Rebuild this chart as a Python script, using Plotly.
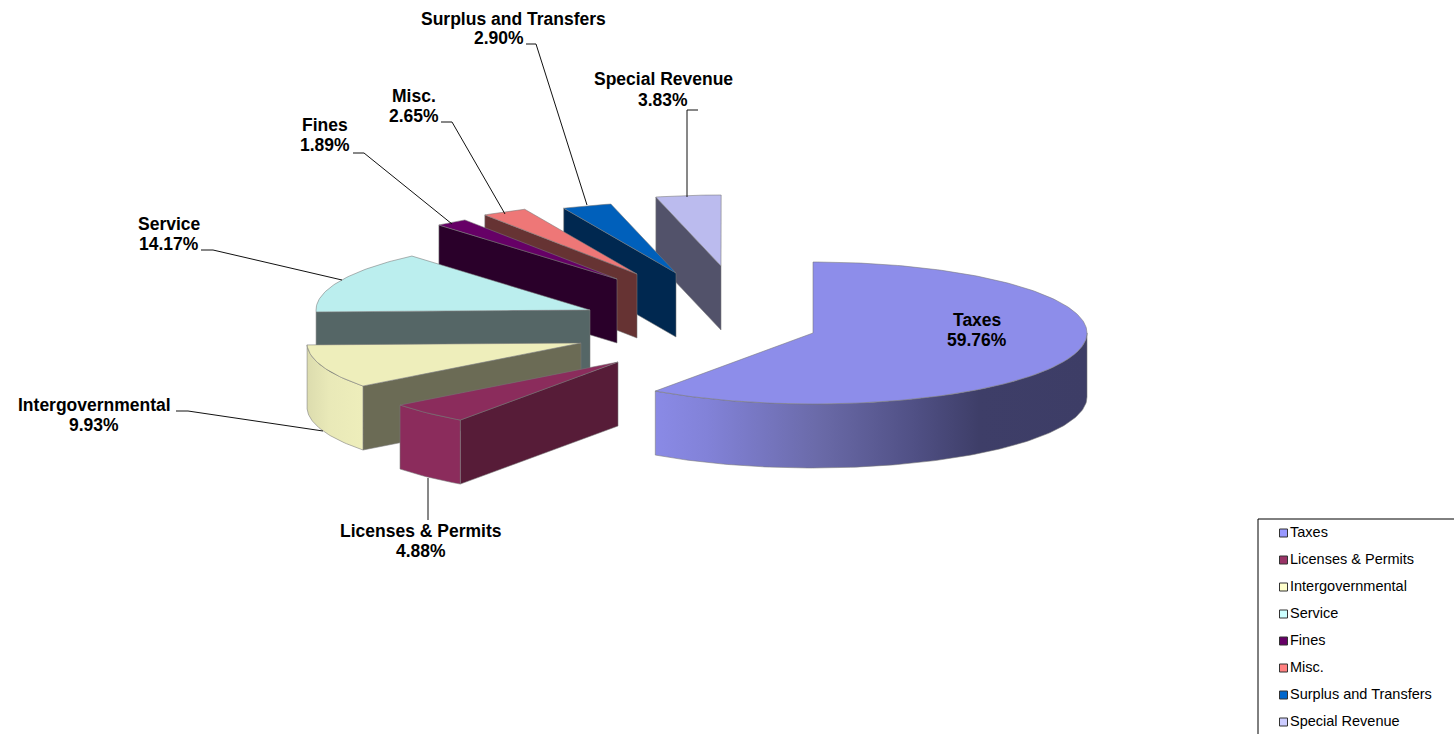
import math
import plotly.graph_objects as go

# ---- data ----
categories = ["Taxes", "Licenses & Permits", "Intergovernmental", "Service",
              "Fines", "Misc.", "Surplus and Transfers", "Special Revenue"]
shares = [59.76, 4.88, 9.93, 14.17, 1.89, 2.65, 2.90, 3.83]
percent_labels = ["59.76%", "4.88%", "9.93%", "14.17%", "1.89%", "2.65%", "2.90%", "3.83%"]

# ---- styling ----
top_colors = ["#8d8dea", "#8b2c5c", "#eeeebb", "#bbeeee", "#660066", "#ee7777", "#0060bb", "#bbbbee"]
cut_colors = ["#3d3d66", "#571c38", "#6b6b55", "#556666", "#2a002a", "#663333", "#002850", "#52526a"]
legend_colors = ["#9999ff", "#993366", "#ffffcc", "#ccffff", "#660066", "#ff8080", "#0066cc", "#ccccff"]
apex_x = [813, 618, 581, 590, 617, 637, 676, 721]
apex_y = [333, 362, 343, 310, 279, 274, 273, 266]
RX, RY, DEPTH = 274, 71, 64
EDGE = "rgba(120,120,120,0.7)"
FONT = "Liberation Sans, Arial, sans-serif"

name_pos = [(977, 320), (421, 531), (94, 405), (169, 224), (325, 125), (414, 96), (513, 19), (663, 79)]
pct_pos = [(977, 340), (421, 551), (94, 425), (169, 244), (325, 145), (414, 116), (499, 38), (663, 100)]
leaders = [None,
           [(428, 520), (428, 478)],
           [(176, 411), (188, 411), (323, 431)],
           [(201, 250), (213, 250), (342, 280)],
           [(353, 153), (364, 153), (452, 224)],
           [(441, 122), (452, 122), (505, 214)],
           [(526, 44), (536, 44), (587, 205)],
           [(698, 110), (687, 110), (687, 197)]]


def pt(cx, cy, deg, drop=0.0):
    a = math.radians(deg)
    return cx + RX * math.sin(a), cy - RY * math.cos(a) + drop


def arc(cx, cy, a0, a1, drop=0.0, step=1.0):
    n = max(2, int(abs(a1 - a0) / step) + 1)
    pts = [pt(cx, cy, a0 + (a1 - a0) * i / (n - 1), drop) for i in range(n)]
    return [p[0] for p in pts], [p[1] for p in pts]


fig = go.Figure()


def poly(xs, ys, color, **extra):
    fig.add_trace(go.Scatter(x=xs, y=ys, mode="lines", fill="toself", fillcolor=color,
                             line=dict(color=EDGE, width=0.8), hoverinfo="skip",
                             showlegend=False, **extra))


# sector angles from the values (clockwise from 12 o'clock)
starts, s = [], 0.0
for v in shares:
    starts.append(s * 3.6)
    s += v
ends = [a + v * 3.6 for a, v in zip(starts, shares)]

rim_gradients = {
    0: [[0, "#8a8ae6"], [0.12, "#8282d8"], [0.38, "#6a6aa8"], [0.6, "#505085"], [0.75, "#3e3e68"], [1, "#3d3d66"]],
    2: [[0, "#dcdcae"], [0.4, "#e9e9b8"], [1, "#eeeebb"]],
    1: [[0, "#8b2c5c"], [1, "#8b2c5c"]],
}

# painted back to front
for i in [7, 6, 5, 4, 3, 2, 1, 0]:
    cx, cy = apex_x[i], apex_y[i]
    a0, a1 = starts[i], ends[i]
    # cut face along the start edge of the sector (faces the viewer for all but Taxes)
    if i != 0:
        ex, ey = pt(cx, cy, a0)
        poly([ex, cx, cx, ex, ex], [ey, cy, cy + DEPTH, ey + DEPTH, ey], cut_colors[i])
    # curved outer wall, only the part on the near side
    if i in rim_gradients:
        lo, hi = max(a0, 90), min(a1, 270)
        ax, ay = arc(cx, cy, lo, hi)
        bx, by = arc(cx, cy, hi, lo, DEPTH)
        fig.add_trace(go.Scatter(x=ax + bx + [ax[0]], y=ay + by + [ay[0]], mode="lines", fill="toself",
                                 fillgradient=dict(type="horizontal", colorscale=(
                                     rim_gradients[i] if i != 0 else rim_gradients[i][::1])),
                                 line=dict(color=EDGE, width=0.8), hoverinfo="skip", showlegend=False))
    # top face
    ax, ay = arc(cx, cy, a0, a1)
    poly([cx] + ax + [cx], [cy] + ay + [cy], top_colors[i])

# leader lines
for seg in leaders:
    if seg:
        fig.add_trace(go.Scatter(x=[p[0] for p in seg], y=[p[1] for p in seg], mode="lines",
                                 line=dict(color="#111111", width=1), hoverinfo="skip", showlegend=False))

# data labels
for name, pct, np_, pp in zip(categories, percent_labels, name_pos, pct_pos):
    for txt, (x, y) in ((name, np_), (pct, pp)):
        fig.add_annotation(x=x, y=y, text=f"<b>{txt}</b>", showarrow=False, xanchor="center", yanchor="middle",
                           font=dict(family=FONT, size=17.5, color="black"))

# legend
legend_y = [533 + 27 * i for i in range(len(categories))]
fig.add_shape(type="rect", x0=1258, y0=519, x1=1470, y1=760, line=dict(color="black", width=1),
              fillcolor="white", layer="below")
fig.add_trace(go.Scatter(x=[1283.5] * 8, y=legend_y, mode="markers",
                         marker=dict(symbol="square", size=8, color=legend_colors,
                                     line=dict(color="#333333", width=1)),
                         hoverinfo="skip", showlegend=False))
fig.add_trace(go.Scatter(x=[1290] * 8, y=legend_y, mode="text", text=categories, textposition="middle right",
                         textfont=dict(family=FONT, size=14.5, color="black"),
                         hoverinfo="skip", showlegend=False))

fig.update_layout(
    width=1454, height=734, margin=dict(l=0, r=0, t=0, b=0),
    paper_bgcolor="white", plot_bgcolor="white", showlegend=False,
    xaxis=dict(range=[0, 1454], visible=False, fixedrange=True),
    yaxis=dict(range=[734, 0], visible=False, fixedrange=True),
)
fig.write_html("out.html", config={"displayModeBar": False},
               post_script="document.body.style.margin='0';document.body.style.overflow='hidden';")
